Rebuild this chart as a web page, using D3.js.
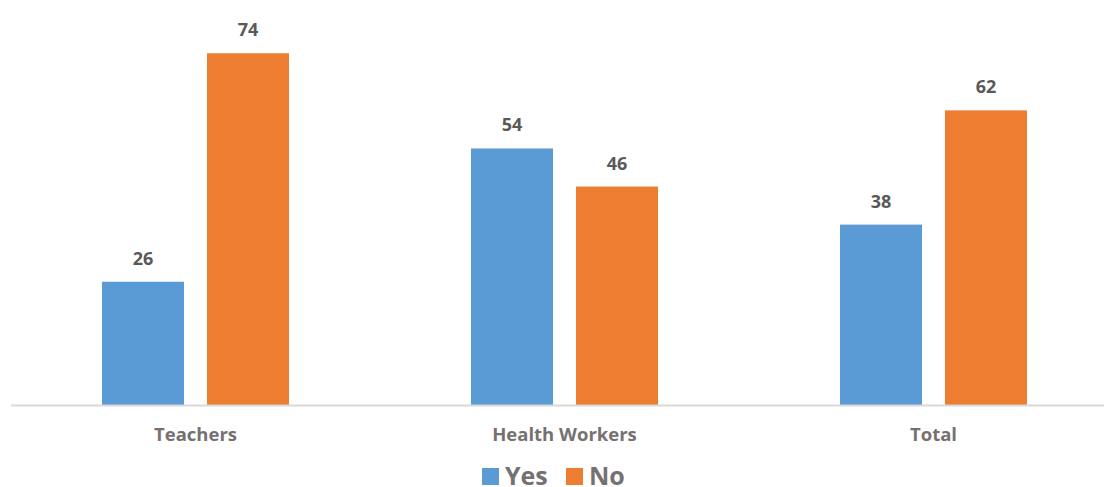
<!DOCTYPE html>
<html><head><meta charset="utf-8">
<script src="https://cdn.jsdelivr.net/npm/d3@7"></script>
<style>body{margin:0;background:#fff}svg{display:block}text{font-family:"Open Sans",Lato,sans-serif;font-weight:bold}</style>
</head><body>
<svg id="c" width="1104" height="487"></svg>
<script>
const categories = ["Teachers", "Health Workers", "Total"];
const seriesNames = ["Yes", "No"];
const yesValues = [26, 54, 38];
const noValues = [74, 46, 62];
const colors = ["#5B9BD5", "#ED7D31"];

const svg = d3.select("#c");
const baseY = 405.5;
const y = d3.scaleLinear().domain([0, 80]).range([baseY, baseY - 80 * 4.76]);
const x0 = d3.scaleBand().domain(categories).range([11, 1118]).paddingInner(0).paddingOuter(0);
const x1 = d3.scaleBand().domain(seriesNames).range([0, 187]).paddingInner(23 / 105);

const data = categories.map((c, i) => ({cat: c, vals: [yesValues[i], noValues[i]]}));

const g = svg.selectAll("g.grp").data(data).join("g")
  .attr("transform", d => `translate(${x0(d.cat) + x0.bandwidth() / 2 - 93.5},0)`);

g.selectAll("rect").data(d => d.vals.map((v, j) => ({s: seriesNames[j], v, j}))).join("rect")
  .attr("x", d => x1(d.s)).attr("width", x1.bandwidth())
  .attr("y", d => y(d.v)).attr("height", d => baseY - y(d.v))
  .attr("fill", d => colors[d.j]);

g.selectAll("text.lbl").data(d => d.vals.map((v, j) => ({s: seriesNames[j], v, j}))).join("text")
  .attr("class", "lbl")
  .attr("x", d => x1(d.s) + x1.bandwidth() / 2)
  .attr("y", d => y(d.v) - 17)
  .attr("text-anchor", "middle").attr("font-size", 18).attr("fill", "#595959")
  .text(d => d.v);

svg.append("line").attr("x1", 11).attr("x2", 1104).attr("y1", baseY).attr("y2", baseY)
  .attr("stroke", "#D9D9D9").attr("stroke-width", 2);

svg.selectAll("text.cat").data(categories).join("text").attr("class", "cat")
  .attr("x", d => x0(d) + x0.bandwidth() / 2).attr("y", 441)
  .attr("text-anchor", "middle").attr("font-size", 18.5).attr("fill", "#767171")
  .text(d => d);

const legend = svg.append("g");
const legX = [482, 566];
seriesNames.forEach((s, i) => {
  legend.append("rect").attr("x", legX[i]).attr("y", 468).attr("width", 17).attr("height", 17).attr("fill", colors[i]);
  legend.append("text").attr("x", legX[i] + 23).attr("y", 485).attr("font-size", 25).attr("fill", "#767171").text(s);
});
</script>
</body></html>
